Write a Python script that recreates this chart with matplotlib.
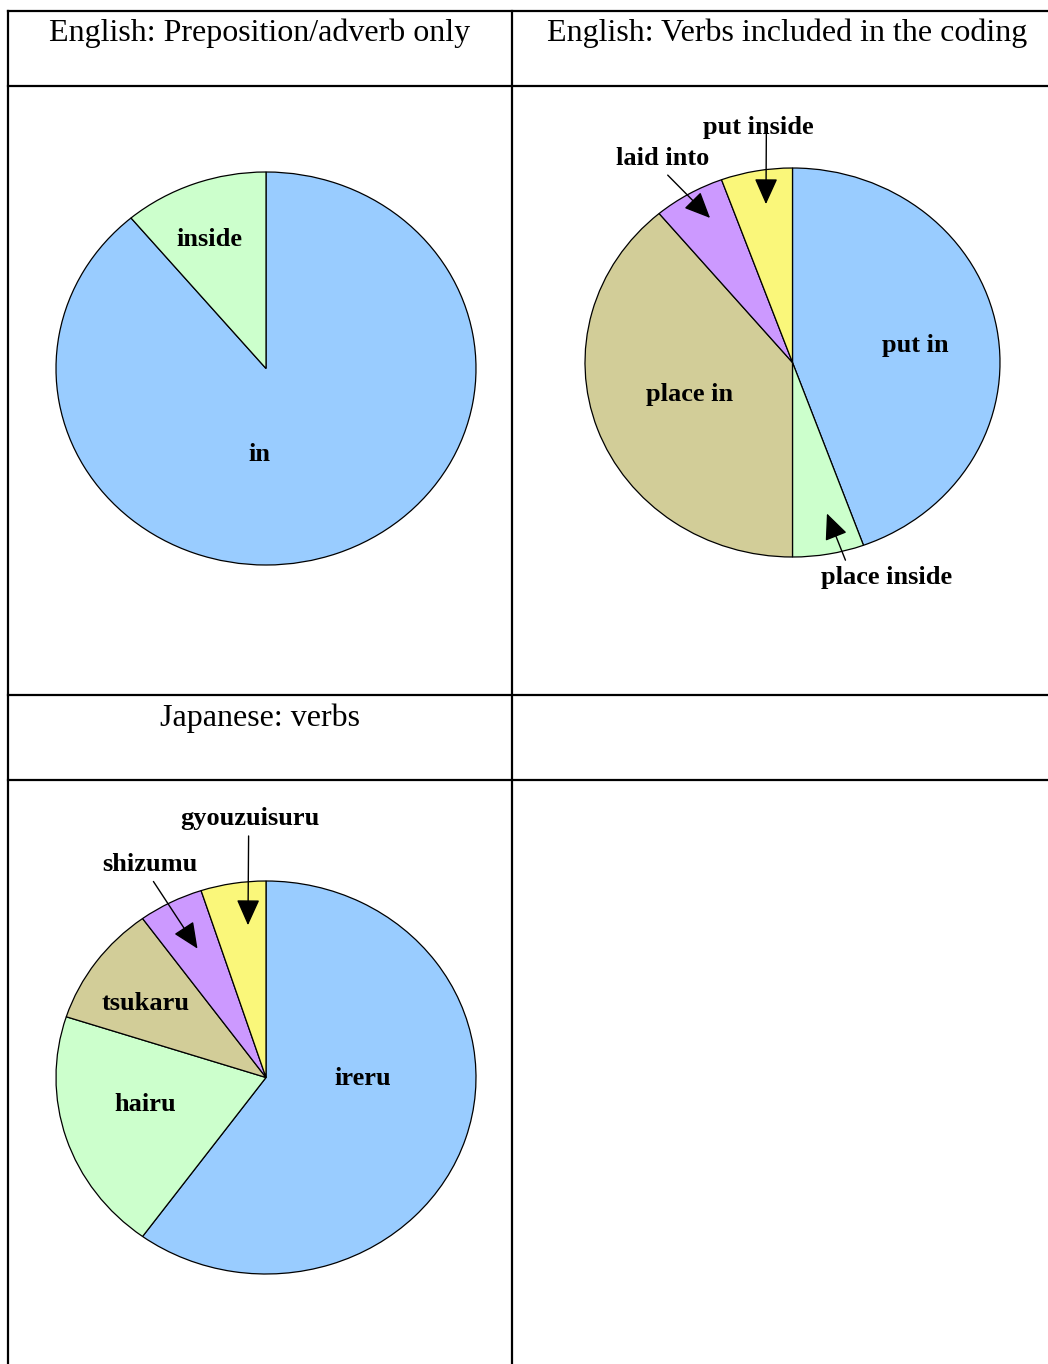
import matplotlib.pyplot as plt
from matplotlib.lines import Line2D

W, H = 1048, 1364

# counts per category (clockwise from 12 o'clock)
prep_labels = ["in", "inside"]
prep_counts = [16, 2]

verb_labels = ["put in", "place inside", "place in", "laid into", "put inside"]
verb_counts = [8, 1, 7, 1, 1]

jp_labels = ["ireru", "hairu", "tsukaru", "shizumu", "gyouzuisuru"]
jp_counts = [12, 4, 2, 1, 1]

titles = ["English: Preposition/adverb only",
          "English: Verbs included in the coding",
          "Japanese: verbs"]

blue, green, tan, purple, yellow = "#99CCFF", "#CCFFCC", "#D2CD98", "#CC99FF", "#FAF77A"

plt.rcParams['font.family'] = ['Liberation Serif', 'DejaVu Serif']

fig = plt.figure(figsize=(W / 100, H / 100), dpi=100)


def fx(x):
    return x / W


def fy(y):
    return 1 - y / H


# table grid
for y in [11, 86, 695, 780]:
    fig.add_artist(Line2D([fx(8), fx(W)], [fy(y), fy(y)], color="black", lw=1.6))
for x in [8, 512]:
    fig.add_artist(Line2D([fx(x), fx(x)], [fy(11), fy(H)], color="black", lw=1.6))

fig.text(fx(260), fy(33), titles[0], ha="center", va="center", fontsize=23)
fig.text(fx(787), fy(33), titles[1], ha="center", va="center", fontsize=23)
fig.text(fx(260), fy(718), titles[2], ha="center", va="center", fontsize=23)


def pie_axes(x0, x1, y0, y1):
    ax = fig.add_axes([fx(x0), fy(y1), fx(x1) - fx(x0), fy(y0) - fy(y1)])
    ax.set_xlim(-1, 1)
    ax.set_ylim(-1, 1)
    ax.axis("off")
    return ax


def draw_pie(ax, counts, colors):
    ax.pie(counts, colors=colors, startangle=90, counterclock=False,
           wedgeprops=dict(edgecolor="black", linewidth=0.9))
    ax.set_aspect("auto")
    ax.set_xlim(-1, 1)
    ax.set_ylim(-1, 1)


lab = dict(ha="center", va="center", fontsize=19, fontweight="bold")
arr = dict(arrowstyle="-|>,head_length=0.85,head_width=0.38", color="black", lw=1)

# prepositions
ax1 = pie_axes(56, 476, 172, 565)
draw_pie(ax1, prep_counts, [blue, green])
ax1.text(-0.029, -0.44, prep_labels[0], **lab)
ax1.text(-0.271, 0.659, prep_labels[1], **lab)

# English verbs
ax2 = pie_axes(585, 1000, 168, 557)
draw_pie(ax2, verb_counts, [blue, green, tan, purple, yellow])
ax2.text(0.590, 0.085, verb_labels[0], **lab)
ax2.text(-0.494, -0.162, verb_labels[2], **lab)
ax2.annotate(verb_labels[1], xy=(0.161, -0.763), xytext=(0.455, -1.103),
             arrowprops=dict(arr, relpos=(0.2, 1.0)), annotation_clip=False, **lab)
ax2.annotate(verb_labels[3], xy=(-0.388, 0.733), xytext=(-0.624, 1.047),
             arrowprops=dict(arr, relpos=(0.5, 0.0)), annotation_clip=False, **lab)
ax2.annotate(verb_labels[4], xy=(-0.128, 0.80), xytext=(-0.166, 1.206),
             arrowprops=dict(arr, relpos=(0.575, 0.35), patchA=None),
             annotation_clip=False, **lab)

# Japanese verbs
ax3 = pie_axes(56, 476, 881, 1274)
draw_pie(ax3, jp_counts, [blue, green, tan, purple, yellow])
ax3.text(0.462, -0.007, jp_labels[0], **lab)
ax3.text(-0.576, -0.135, jp_labels[1], **lab)
ax3.text(-0.571, 0.379, jp_labels[2], **lab)
ax3.annotate(jp_labels[3], xy=(-0.319, 0.644), xytext=(-0.552, 1.082),
             arrowprops=dict(arr, relpos=(0.5, 0.0)), annotation_clip=False, **lab)
ax3.annotate(jp_labels[4], xy=(-0.086, 0.761), xytext=(-0.076, 1.316),
             arrowprops=dict(arr, relpos=(0.49, 0.0)), annotation_clip=False, **lab)

fig.savefig("out.png", dpi=100)
